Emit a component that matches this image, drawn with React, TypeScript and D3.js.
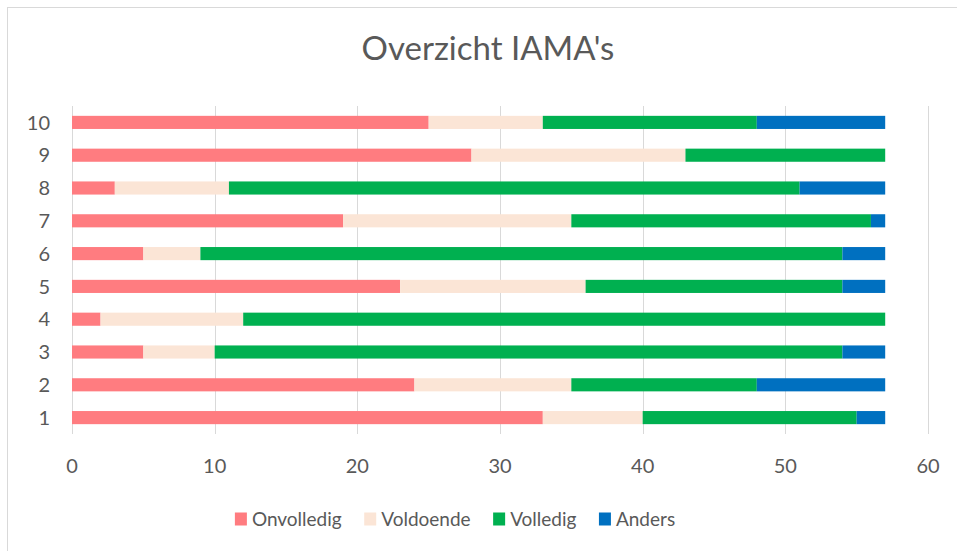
import React, { useEffect, useRef } from 'react';
import * as d3 from 'd3';

// IAMA numbers (bottom to top in the chart)
const categories = ['1', '2', '3', '4', '5', '6', '7', '8', '9', '10'];
const onvolledig = [33, 24, 5, 2, 23, 5, 19, 3, 28, 25];
const voldoende = [7, 11, 5, 10, 13, 4, 16, 8, 15, 8];
const volledig = [15, 13, 44, 45, 18, 45, 21, 40, 14, 15];
const anders = [2, 9, 3, 0, 3, 3, 1, 6, 0, 9];

const seriesNames = ['Onvolledig', 'Voldoende', 'Volledig', 'Anders'];
const seriesColors = ['#FF7C80', '#FBE5D6', '#00B050', '#0070C0'];
const xTicks = [0, 10, 20, 30, 40, 50, 60];

const W = 957;
const H = 551;
const FONT = 'Lato, "Open Sans", sans-serif';
const TEXT = '#595959';
const GRID = '#D9D9D9';

const App = () => {
  const svgRef = useRef<SVGSVGElement | null>(null);

  useEffect(() => {
    const svg = d3.select(svgRef.current);
    svg.selectAll('*').remove();

    const rows = categories.map((c, i) => ({
      cat: c,
      Onvolledig: onvolledig[i],
      Voldoende: voldoende[i],
      Volledig: volledig[i],
      Anders: anders[i],
    }));

    const plot = { left: 72, right: 928, top: 106, bottom: 434 };

    const x = d3.scaleLinear().domain([0, 60]).range([plot.left, plot.right]);
    const y = d3.scaleBand()
      .domain(categories)
      .range([plot.bottom, plot.top])
      .paddingInner(0.6)
      .paddingOuter(0.3);

    // chart frame
    svg.append('rect')
      .attr('x', 7.5).attr('y', 7.5)
      .attr('width', W).attr('height', H)
      .attr('fill', '#fff')
      .attr('stroke', GRID)
      .attr('stroke-width', 1);

    // title
    svg.append('text')
      .attr('x', 488).attr('y', 60)
      .attr('text-anchor', 'middle')
      .style('font-family', FONT)
      .style('font-size', '33px')
      .style('fill', TEXT)
      .text("Overzicht IAMA's");

    // vertical gridlines
    svg.append('g')
      .selectAll('line')
      .data(xTicks)
      .join('line')
      .attr('x1', d => Math.round(x(d)) + 0.5)
      .attr('x2', d => Math.round(x(d)) + 0.5)
      .attr('y1', plot.top)
      .attr('y2', plot.bottom)
      .attr('stroke', GRID)
      .attr('stroke-width', 1);

    // bars
    const stacked = d3.stack().keys(seriesNames)(rows as any);
    svg.append('g')
      .selectAll('g')
      .data(stacked)
      .join('g')
      .attr('fill', (_d, i) => seriesColors[i])
      .selectAll('rect')
      .data(d => d)
      .join('rect')
      .attr('x', d => x(d[0]))
      .attr('width', d => x(d[1]) - x(d[0]))
      .attr('y', d => y((d.data as any).cat) as number)
      .attr('height', y.bandwidth());

    // x tick labels
    svg.append('g')
      .selectAll('text')
      .data(xTicks)
      .join('text')
      .attr('x', d => x(d))
      .attr('y', 473)
      .attr('text-anchor', 'middle')
      .style('font-family', FONT)
      .style('font-size', '20px')
      .style('fill', TEXT)
      .text(d => d);

    // y tick labels
    svg.append('g')
      .selectAll('text')
      .data(categories)
      .join('text')
      .attr('x', 50)
      .attr('y', d => (y(d) as number) + y.bandwidth() / 2)
      .attr('dy', '0.36em')
      .attr('text-anchor', 'end')
      .style('font-family', FONT)
      .style('font-size', '20px')
      .style('fill', TEXT)
      .text(d => d);

    // legend
    const legend = svg.append('g');
    const items = legend.selectAll('g')
      .data(seriesNames)
      .join('g');
    items.append('rect')
      .attr('width', 12).attr('height', 13)
      .attr('y', -6.5)
      .attr('fill', (_d, i) => seriesColors[i]);
    items.append('text')
      .attr('x', 17)
      .attr('dy', '0.36em')
      .style('font-family', FONT)
      .style('font-size', '19px')
      .style('fill', TEXT)
      .text(d => d);

    let offset = 0;
    const offsets: number[] = [];
    items.each(function () {
      offsets.push(offset);
      const t = d3.select(this).select('text').node() as SVGTextElement;
      offset += 17 + t.getComputedTextLength() + 22.5;
    });
    const total = offset - 22.5;
    const startX = 455 - total / 2;
    items.attr('transform', (_d, i) => `translate(${startX + offsets[i]},519)`);
  }, []);

  return (
    <div style={{ position: 'absolute', left: 0, top: 0 }}>
      <svg ref={svgRef} width={W} height={H} style={{ display: 'block' }}></svg>
    </div>
  );
};

export default App;
